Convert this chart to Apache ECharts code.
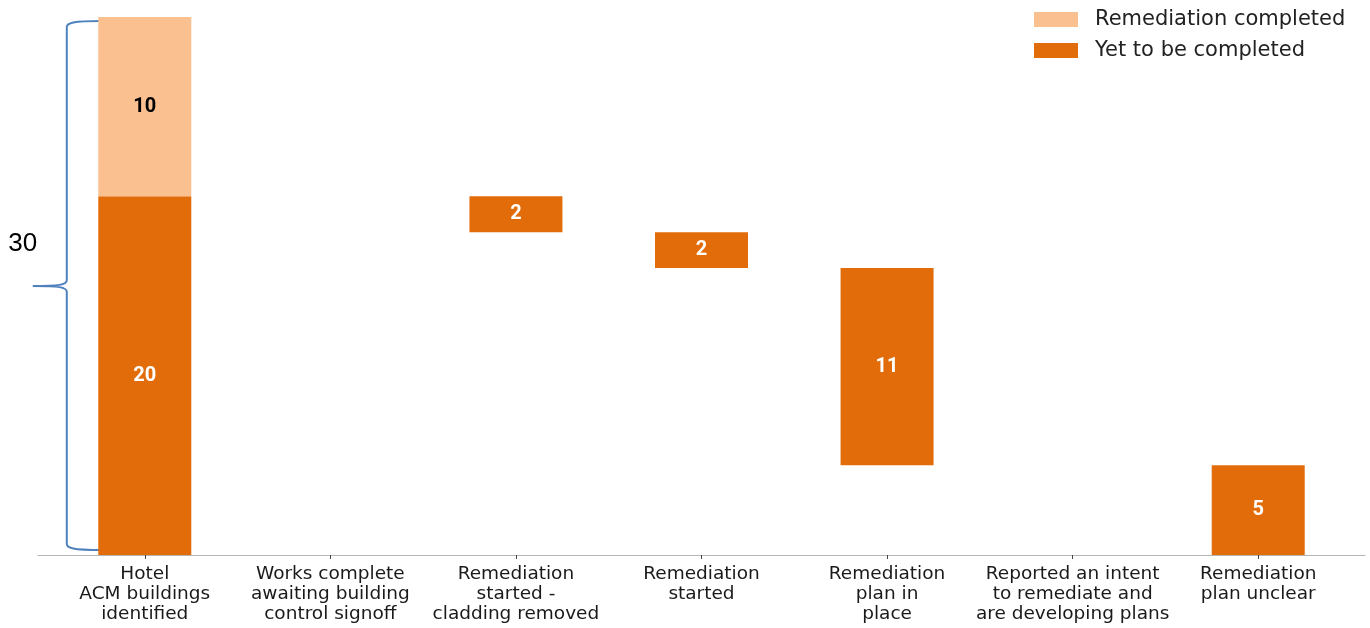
<!DOCTYPE html>
<html>
<head>
<meta charset="utf-8">
<script src="https://cdn.jsdelivr.net/npm/echarts@6/dist/echarts.min.js"></script>
<style>
html,body{margin:0;padding:0;background:#fff;}
#chart{width:1370px;height:628px;}
</style>
</head>
<body>
<div id="chart"></div>
<script>
const categories = [
  "Hotel\nACM buildings\nidentified",
  "Works complete\nawaiting building\ncontrol signoff",
  "Remediation\nstarted -\ncladding removed",
  "Remediation\nstarted",
  "Remediation\nplan in\nplace",
  "Reported an intent\nto remediate and\nare developing plans",
  "Remediation\nplan unclear"
];
const baseValues = [0, 0, 18, 16, 5, 0, 0];
const yetToBeCompleted = [20, 0, 2, 2, 11, 0, 5];
const remediationCompleted = [10, 0, 0, 0, 0, 0, 0];
const braceTotal = 30;

const DARK = '#E36C0A';
const LIGHT = '#FAC090';
const BLUE = '#4F81BD';

const chart = echarts.init(document.getElementById('chart'));
const option = {
  animation: false,
  backgroundColor: '#ffffff',
  legend: {
    data: ['Remediation completed', 'Yet to be completed'],
    orient: 'vertical',
    left: 1029,
    top: 4,
    itemWidth: 44,
    itemHeight: 15,
    itemGap: 10,
    icon: 'rect',
    textStyle: {
      fontFamily: 'DejaVu Sans',
      fontSize: 21,
      color: '#222222',
      padding: [0, 0, 0, 12]
    }
  },
  grid: [
    { left: 52, right: 19, top: 17, bottom: 73 },
    { left: 38, right: 5, top: 17, bottom: 73 }
  ],
  xAxis: [
    {
      type: 'category',
      gridIndex: 0,
      data: categories,
      axisLine: { show: false },
      axisTick: { show: true, alignWithLabel: true, length: 4, lineStyle: { color: '#444444' } },
      axisLabel: {
        interval: 0,
        margin: 9,
        fontFamily: 'DejaVu Sans',
        fontSize: 18.5,
        lineHeight: 20,
        color: '#1a1a1a',
        align: 'center'
      }
    },
    {
      type: 'value',
      gridIndex: 1,
      min: 0,
      max: 1,
      axisLine: { show: true, lineStyle: { color: '#b5b5b5', width: 1.2 } },
      axisTick: { show: false },
      axisLabel: { show: false },
      splitLine: { show: false }
    }
  ],
  yAxis: [
    { type: 'value', gridIndex: 0, min: 0, max: 30, show: false },
    { type: 'value', gridIndex: 1, min: 0, max: 1, show: false }
  ],
  series: [
    {
      name: 'base',
      type: 'bar',
      stack: 'w',
      barWidth: 93,
      silent: true,
      itemStyle: { color: 'transparent' },
      data: baseValues
    },
    {
      name: 'Yet to be completed',
      type: 'bar',
      stack: 'w',
      barWidth: 93,
      itemStyle: { color: DARK },
      label: {
        show: true,
        position: 'inside',
        color: '#ffffff',
        fontFamily: 'Roboto',
        fontWeight: 'bold',
        fontSize: 20,
        formatter: p => (p.value ? String(p.value) : '')
      },
      data: yetToBeCompleted
    },
    {
      name: 'Remediation completed',
      type: 'bar',
      stack: 'w',
      barWidth: 93,
      itemStyle: { color: LIGHT },
      label: {
        show: true,
        position: 'inside',
        color: '#000000',
        fontFamily: 'Roboto',
        fontWeight: 'bold',
        fontSize: 20,
        formatter: p => (p.value ? String(p.value) : '')
      },
      data: remediationCompleted
    },
    {
      name: 'brace',
      type: 'custom',
      silent: true,
      xAxisIndex: 0,
      yAxisIndex: 0,
      data: [[0, braceTotal]],
      renderItem: function (params, api) {
        const total = api.value(1);
        const top = api.coord([api.value(0), total]);
        const bot = api.coord([api.value(0), 0]);
        const cx = top[0];
        const xEnd = cx - 44;
        const xV = cx - 78;
        const xTip = cx - 112;
        const yt = top[1] + 4;
        const yb = bot[1] - 5;
        const ym = (top[1] + bot[1]) / 2;
        const path =
          'M' + xEnd + ' ' + yt +
          ' C' + (xV + 6) + ' ' + yt + ' ' + xV + ' ' + (yt + 2) + ' ' + xV + ' ' + (yt + 6) +
          ' L' + xV + ' ' + (ym - 6) +
          ' C' + xV + ' ' + (ym - 1) + ' ' + (xV - 8) + ' ' + ym + ' ' + xTip + ' ' + ym +
          ' C' + (xV - 8) + ' ' + ym + ' ' + xV + ' ' + (ym + 1) + ' ' + xV + ' ' + (ym + 6) +
          ' L' + xV + ' ' + (yb - 6) +
          ' C' + xV + ' ' + (yb - 2) + ' ' + (xV + 6) + ' ' + yb + ' ' + xEnd + ' ' + yb;
        return {
          type: 'group',
          children: [
            {
              type: 'path',
              shape: { pathData: path },
              style: { fill: 'none', stroke: BLUE, lineWidth: 2 }
            },
            {
              type: 'text',
              style: {
                x: cx - 122,
                y: ym - 42,
                text: String(total),
                fill: '#000000',
                font: '26px "Liberation Sans", Arial, sans-serif',
                align: 'center',
                verticalAlign: 'middle'
              }
            }
          ]
        };
      }
    }
  ]
};
chart.setOption(option);
</script>
</body>
</html>
